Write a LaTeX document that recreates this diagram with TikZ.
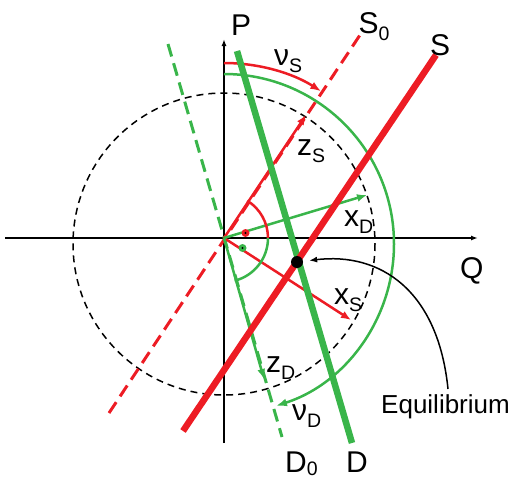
\documentclass[tikz,border=0pt]{standalone}
\usepackage{fontspec}
\setmainfont{Liberation Sans}
\usetikzlibrary{arrows.meta}
\definecolor{rd}{RGB}{237,28,36}
\definecolor{gn}{RGB}{57,181,74}
\newcommand\sublab[3][7.5pt]{#2\raisebox{-#1}{\fontsize{19.5}{20}\selectfont #3}}
\begin{document}
\begin{tikzpicture}[x=1pt,y=-1pt,
  lbl/.style={inner sep=0pt, anchor=base west, font=\fontsize{30}{31}\selectfont},
  axisline/.style={line width=1.5pt, -{Latex[length=7pt,width=5pt]}},
  bigline/.style={line width=6.5pt},
  dline/.style={line width=3pt, dash pattern=on 13pt off 7pt},
  vec/.style={line width=2.5pt, -{Latex[length=10pt,width=8pt]}},
  arcline/.style={line width=2.5pt},
  rdot/.style={circle, fill=#1, minimum size=8pt, inner sep=0pt},
]
\useasboundingbox (0,0) rectangle (511,479);
\coordinate (O) at (224,238);
\coordinate (C) at (224,244);
% dashed circle
\draw[line width=1.5pt, dash pattern=on 7pt off 5pt] (C) circle[radius=151];
% axes
\coordinate (qL) at (5,238);
\coordinate (qR) at (478,238);
\coordinate (pB) at (224,443);
\coordinate (pT) at (224,39);
\draw[axisline] (qL) -- (qR);
\draw[axisline] (pB) -- (pT);
% dashed lines S0 and D0
\coordinate (s0a) at (109,413);
\coordinate (s0b) at (362,32);
\coordinate (d0a) at (168,44);
\coordinate (d0b) at (282,437);
\draw[dline, rd] (s0a) -- (s0b);
\draw[dline, gn] (d0a) -- (d0b);
% vectors
\coordinate (zS) at (306,115);
\coordinate (xS) at (351,320);
\coordinate (xD) at (367,195);
\coordinate (zD) at (264,379);
\draw[vec, rd] (O) -- (zS);
\draw[vec, rd] (O) -- (xS);
\draw[vec, gn] (O) -- (xD);
\draw[vec, gn] (O) -- (zD);
% small angle arcs
\draw[arcline, rd] ([shift={(-58:44)}]O) arc[start angle=-58, end angle=0, radius=44];
\draw[arcline, gn] ([shift={(0:44)}]O) arc[start angle=0, end angle=76, radius=44];
% right angle marks
\node[rdot=rd] (ra1) at (245.5,233) {};
\node[rdot=gn] (ra2) at (242.5,248) {};
\fill (ra1.center) circle[radius=1.2];
\fill (ra2.center) circle[radius=1.2];
% big arcs
\draw[arcline, rd, -{Latex[length=11pt,width=8pt]}] ([shift={(-90:181)}]C) arc[start angle=-90, end angle=-57.5, radius=181];
\draw[arcline, gn, -{Latex[length=11pt,width=8pt]}] ([shift={(-90:170)}]C) arc[start angle=-90, end angle=72.2, radius=170];
% thick lines
\coordinate (da) at (237,51);
\coordinate (db) at (352,443);
\coordinate (sa) at (183,431);
\coordinate (sb) at (436,55);
\draw[bigline, gn] (da) -- (db);
\draw[bigline, rd] (sa) -- (sb);
% equilibrium
\node[circle, fill=black, minimum size=12pt, inner sep=0pt] (eqdot) at (297,262) {};
\node[inner sep=0pt, anchor=base west, font=\fontsize{26}{27}\selectfont] (eq) at (381,413.3) {Equilibrium};
\coordinate (eqs) at (448,389);
\draw[line width=1.5pt, -{Latex[length=8pt,width=6pt]}, shorten >=6pt] (eqs) .. controls (438,290) and (380,252) .. (eqdot);
% labels
\node[lbl] (lP) at (231,35) {P};
\node[lbl] (lS0) at (358.5,33) {\sublab{S}{0}};
\node[lbl] (lS) at (430,55) {S};
\node[lbl] (lQ) at (460,278) {Q};
\node[lbl] (lD) at (346,472) {D};
\node[lbl] (lD0) at (285,472) {\sublab[3pt]{D}{0}};
\node[lbl] (lnuS) at (274,65) {\sublab{ν}{S}};
\node[lbl] (lzS) at (297,155) {\sublab{z}{S}};
\node[lbl] (lxD) at (344,226) {\sublab{x}{D}};
\node[lbl] (lxS) at (334,304) {\sublab{x}{S}};
\node[lbl] (lzD) at (266,372) {\sublab{z}{D}};
\node[lbl] (lnuD) at (292,420) {\sublab{ν}{D}};
\end{tikzpicture}
\end{document}
